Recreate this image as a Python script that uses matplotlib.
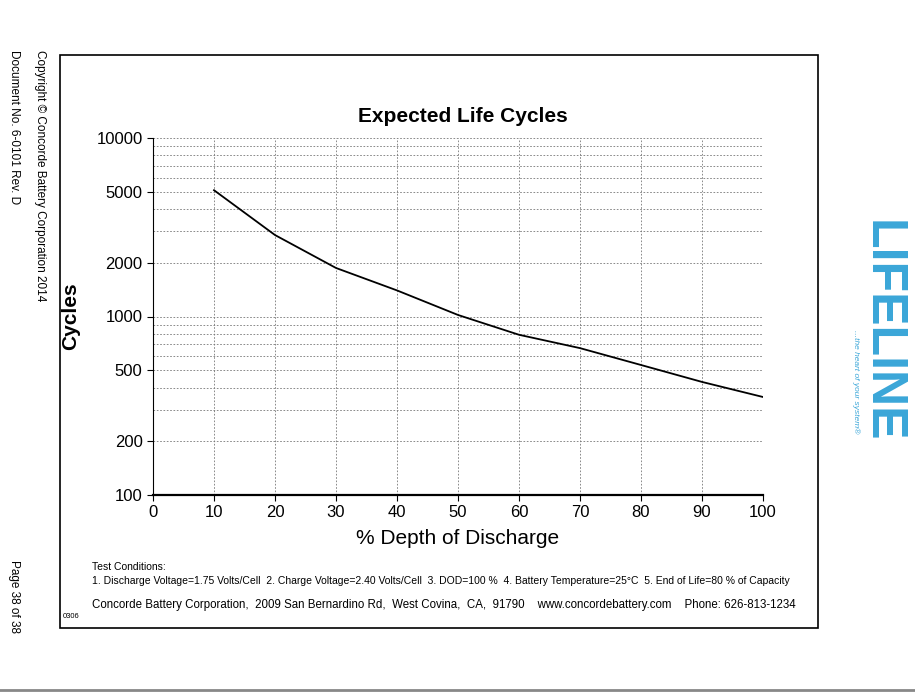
import matplotlib
matplotlib.use("Agg")
import matplotlib.pyplot as plt
from matplotlib.patches import Rectangle
from matplotlib.ticker import FixedLocator, NullFormatter

plt.rcParams["font.family"] = ["Liberation Sans", "DejaVu Sans"]

dod = [10, 20, 30, 40, 50, 60, 70, 80, 90, 100]
cycles = [5100, 2860, 1870, 1400, 1020, 790, 665, 535, 430, 354]
yticks = [100, 200, 500, 1000, 2000, 5000, 10000]
xticks = [0, 10, 20, 30, 40, 50, 60, 70, 80, 90, 100]

W, H = 915, 697
fig = plt.figure(figsize=(W/100, H/100), dpi=100)
fig.patch.set_facecolor("white")

def fx(px): return px / W
def fy(py): return 1 - py / H

fig.patches.append(Rectangle((fx(60), fy(628)), fx(818)-fx(60), fy(55)-fy(628),
                             transform=fig.transFigure, fill=False, lw=1.2, ec="black"))
fig.add_artist(plt.Line2D([0, 1], [fy(690), fy(690)], transform=fig.transFigure, color="#888888", lw=2))

ax = fig.add_axes([fx(153), fy(495), fx(763)-fx(153), fy(138)-fy(495)])
ax.plot(dod, cycles, color="black", lw=1.3)
ax.set_yscale("log")
ax.set_xlim(0, 100)
ax.set_ylim(100, 10000)
ax.set_xticks(xticks)
ax.yaxis.set_major_locator(FixedLocator(yticks))
ax.set_yticklabels([str(v) for v in yticks])
ax.yaxis.set_minor_locator(FixedLocator([v*m for v in (100, 1000) for m in range(2, 10)]))
ax.yaxis.set_minor_formatter(NullFormatter())
ax.tick_params(axis="y", which="minor", length=0)
ax.tick_params(labelsize=12, length=4)
ax.grid(True, which="both", axis="y", ls=(0, (2, 2)), color="#777777", lw=0.6)
ax.grid(True, which="major", axis="x", ls=(0, (2, 2)), color="#777777", lw=0.6)
ax.spines["top"].set_visible(False)
ax.spines["right"].set_visible(False)
ax.spines["bottom"].set_linewidth(1.6)
fig.text(fx(463), fy(117), "Expected Life Cycles", fontsize=15, fontweight="bold", ha="center", va="center")
ax.set_xlabel("% Depth of Discharge", fontsize=15, labelpad=6)
ax.set_ylabel("Cycles", fontsize=15, fontweight="bold", labelpad=12)

fig.text(fx(92), fy(570), "Test Conditions:", fontsize=7.5)
fig.text(fx(92), fy(584), "1. Discharge Voltage=1.75 Volts/Cell  2. Charge Voltage=2.40 Volts/Cell  3. DOD=100 %  4. Battery Temperature=25°C  5. End of Life=80 % of Capacity", fontsize=7.5)
fig.text(fx(92), fy(608), "Concorde Battery Corporation,  2009 San Bernardino Rd,  West Covina,  CA,  91790    www.concordebattery.com    Phone: 626-813-1234", fontsize=8.3)
fig.text(fx(63), fy(618), "0306", fontsize=5.5)

fig.text(fx(40), fy(50), "Copyright © Concorde Battery Corporation 2014", rotation=-90, fontsize=8.5, va="top", ha="center")
fig.text(fx(14), fy(50), "Document No. 6-0101 Rev. D", rotation=-90, fontsize=8.5, va="top", ha="center")
fig.text(fx(14), fy(560), "Page 38 of 38", rotation=-90, fontsize=8.5, va="top", ha="center")

fig.text(fx(882), fy(331), "LIFELINE", rotation=-90, fontsize=36, fontweight="bold", color="#3aa6d8",
         ha="center", va="center")
fig.text(fx(856), fy(382), "...the heart of your system®", rotation=-90, fontsize=6, style="italic",
         color="#3aa6d8", ha="center", va="center")

fig.savefig("out.png", dpi=100)
